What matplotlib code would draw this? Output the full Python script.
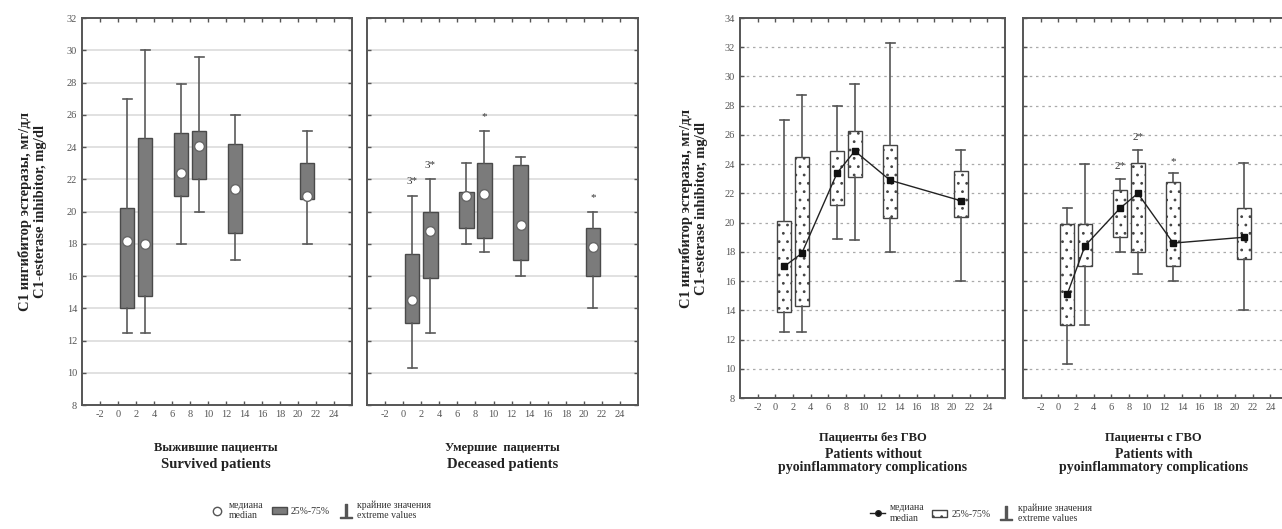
import numpy as np
import matplotlib
matplotlib.use("Agg")
from matplotlib import pyplot as plt
from matplotlib.lines import Line2D
from matplotlib.patches import Patch

plt.rcParams['font.family'] = ['Liberation Serif', 'DejaVu Serif']

days = [1, 3, 7, 9, 13, 21]
xticks = list(range(-2, 25, 2))

# whislo, q1, med, q3, whishi
survived = [
    [12.5, 14.0, 18.2, 20.2, 27.0],
    [12.5, 14.8, 18.0, 24.6, 30.0],
    [18.0, 21.0, 22.4, 24.9, 27.9],
    [20.0, 22.0, 24.1, 25.0, 29.6],
    [17.0, 18.7, 21.4, 24.2, 26.0],
    [18.0, 20.8, 21.0, 23.0, 25.0],
]
deceased = [
    [10.3, 13.1, 14.5, 17.4, 21.0],
    [12.5, 15.9, 18.8, 20.0, 22.0],
    [18.0, 19.0, 21.0, 21.2, 23.0],
    [17.5, 18.4, 21.1, 23.0, 25.0],
    [16.0, 17.0, 19.2, 22.9, 23.4],
    [14.0, 16.0, 17.8, 19.0, 20.0],
]
deceased_marks = {1: '3*', 3: '3*', 9: '*', 21: '*'}

no_complications = [
    [12.5, 13.9, 17.0, 20.1, 27.0],
    [12.5, 14.3, 17.9, 24.5, 28.7],
    [18.9, 21.2, 23.4, 24.9, 28.0],
    [18.8, 23.1, 24.9, 26.3, 29.5],
    [18.0, 20.3, 22.9, 25.3, 32.3],
    [16.0, 20.4, 21.5, 23.5, 25.0],
]
with_complications = [
    [10.3, 13.0, 15.1, 19.9, 21.0],
    [13.0, 17.0, 18.4, 19.9, 24.0],
    [18.0, 19.0, 21.0, 22.2, 23.0],
    [16.5, 18.0, 22.0, 24.1, 25.0],
    [16.0, 17.0, 18.6, 22.8, 23.4],
    [14.0, 17.5, 19.0, 21.0, 24.1],
]
complication_marks = {7: '2*', 9: '2*', 13: '*'}

ylabel = 'С1 ингибитор эстеразы, мг/дл\nC1-esterase inhibitor, mg/dl'
EDGE = '#555555'


def make_stats(rows):
    return [dict(whislo=r[0], q1=r[1], med=r[2], q3=r[3], whishi=r[4], fliers=[])
            for r in rows]


def style_axes(ax, ylim, grid_style):
    ax.set_xlim(-4, 26)
    ax.set_ylim(*ylim)
    ax.set_xticks(xticks)
    ax.set_xticklabels([str(t) for t in xticks])
    ax.set_yticks(np.arange(ylim[0], ylim[1] + 1, 2))
    ax.tick_params(direction='in', length=3, width=1, color=EDGE,
                   top=True, right=True, labelsize=7.5, labelcolor='#555555')
    for s in ax.spines.values():
        s.set_color(EDGE)
        s.set_linewidth(1.4)
    for y in np.arange(ylim[0] + 2, ylim[1], 2):
        if grid_style == 'solid':
            ax.axhline(y, color='#dcdcdc', lw=1.2, zorder=0)
        else:
            ax.axhline(y, color='#aaaaaa', lw=0.9, ls=(0, (2, 3)), zorder=0)


def draw_left(ax, rows, marks=None):
    ax.bxp(make_stats(rows), positions=days, widths=1.6, showfliers=False,
           patch_artist=True, capwidths=1.0, manage_ticks=False,
           boxprops=dict(facecolor='#7b7b7b', edgecolor='#4a4a4a', lw=1),
           whiskerprops=dict(color='#5a5a5a', lw=1.2),
           capprops=dict(color='#5a5a5a', lw=1.2),
           medianprops=dict(lw=0))
    meds = [r[2] for r in rows]
    ax.plot(days, meds, ls='none', marker='o', ms=7, mfc='white',
            mec='#666666', mew=1, zorder=5)
    if marks:
        for d, txt in marks.items():
            top = rows[days.index(d)][4]
            ax.text(d, top + 0.6, txt, ha='center', va='bottom', fontsize=8,
                    color='#333333')


def draw_right(ax, rows, marks=None):
    bp = ax.bxp(make_stats(rows), positions=days, widths=1.6, showfliers=False,
                patch_artist=True, capwidths=1.0, manage_ticks=False,
                boxprops=dict(facecolor='white', edgecolor='#444444', lw=1),
                whiskerprops=dict(color='#555555', lw=1.2),
                capprops=dict(color='#555555', lw=1.2),
                medianprops=dict(lw=0))
    for b in bp['boxes']:
        b.set_hatch('..')
    meds = [r[2] for r in rows]
    ax.plot(days, meds, color='#222222', lw=1, marker='s', ms=5,
            mfc='#111111', mec='#111111', zorder=5)
    if marks:
        for d, txt in marks.items():
            top = rows[days.index(d)][4]
            ax.text(d, top + 0.5, txt, ha='center', va='bottom', fontsize=8,
                    color='#333333')


plt.rcParams['hatch.color'] = '#777777'
plt.rcParams['hatch.linewidth'] = 0.8

fig = plt.figure(figsize=(12.82, 5.29), dpi=100)

ax1 = fig.add_axes([0.064, 0.234, 0.2106, 0.7316])
ax2 = fig.add_axes([0.2863, 0.234, 0.2114, 0.7316])
ax3 = fig.add_axes([0.5772, 0.2476, 0.2067, 0.7183])
ax4 = fig.add_axes([0.798, 0.2476, 0.2067, 0.7183])

draw_left(ax1, survived)
draw_left(ax2, deceased, deceased_marks)
draw_right(ax3, no_complications)
draw_right(ax4, with_complications, complication_marks)

for ax in (ax1, ax2):
    style_axes(ax, (8, 32), 'solid')
for ax in (ax3, ax4):
    style_axes(ax, (8, 34), 'dotted')
ax2.tick_params(labelleft=False)
ax4.tick_params(labelleft=False)

ax1.set_ylabel(ylabel, fontsize=10.5, fontweight='bold', labelpad=14, color='#222222')
ax3.set_ylabel(ylabel, fontsize=10.5, fontweight='bold', labelpad=12, color='#222222')

title_kw = dict(ha='center', va='center', fontweight='bold', color='#222222')
fig.text(0.168, 0.153, 'Выжившие пациенты', fontsize=9, **title_kw)
fig.text(0.168, 0.121, 'Survived patients', fontsize=10.5, **title_kw)
fig.text(0.392, 0.153, 'Умершие  пациенты', fontsize=9, **title_kw)
fig.text(0.392, 0.121, 'Deceased patients', fontsize=10.5, **title_kw)

fig.text(0.681, 0.172, 'Пациенты без ГВО', fontsize=9, **title_kw)
fig.text(0.681, 0.140, 'Patients without', fontsize=10, **title_kw)
fig.text(0.681, 0.116, 'pyoinflammatory complications', fontsize=10, **title_kw)
fig.text(0.900, 0.172, 'Пациенты с ГВО', fontsize=9, **title_kw)
fig.text(0.900, 0.140, 'Patients with', fontsize=10, **title_kw)
fig.text(0.900, 0.116, 'pyoinflammatory complications', fontsize=10, **title_kw)

left_handles = [
    Line2D([], [], ls='none', marker='o', ms=6, mfc='white', mec='#555555'),
    Patch(facecolor='#7b7b7b', edgecolor='#4a4a4a'),
    Line2D([], [], ls='none', marker='$\\perp$', ms=10, color='#555555'),
]
right_handles = [
    Line2D([], [], color='#222222', lw=1, marker='o', ms=4, mfc='#111111'),
    Patch(facecolor='white', edgecolor='#444444', hatch='..'),
    Line2D([], [], ls='none', marker='$\\perp$', ms=10, color='#555555'),
]
labels = ['медиана\nmedian', '25%-75%', 'крайние значения\nextreme values']

leg_kw = dict(ncol=3, frameon=False, fontsize=7, handlelength=1.6,
              handletextpad=0.4, columnspacing=0.8, labelcolor='#333333')
fig.legend(left_handles, labels, loc='center', bbox_to_anchor=(0.25, 0.035),
           **leg_kw)
fig.legend(right_handles, labels, loc='center', bbox_to_anchor=(0.765, 0.03),
           **leg_kw)

fig.savefig('out.png', dpi=100)
